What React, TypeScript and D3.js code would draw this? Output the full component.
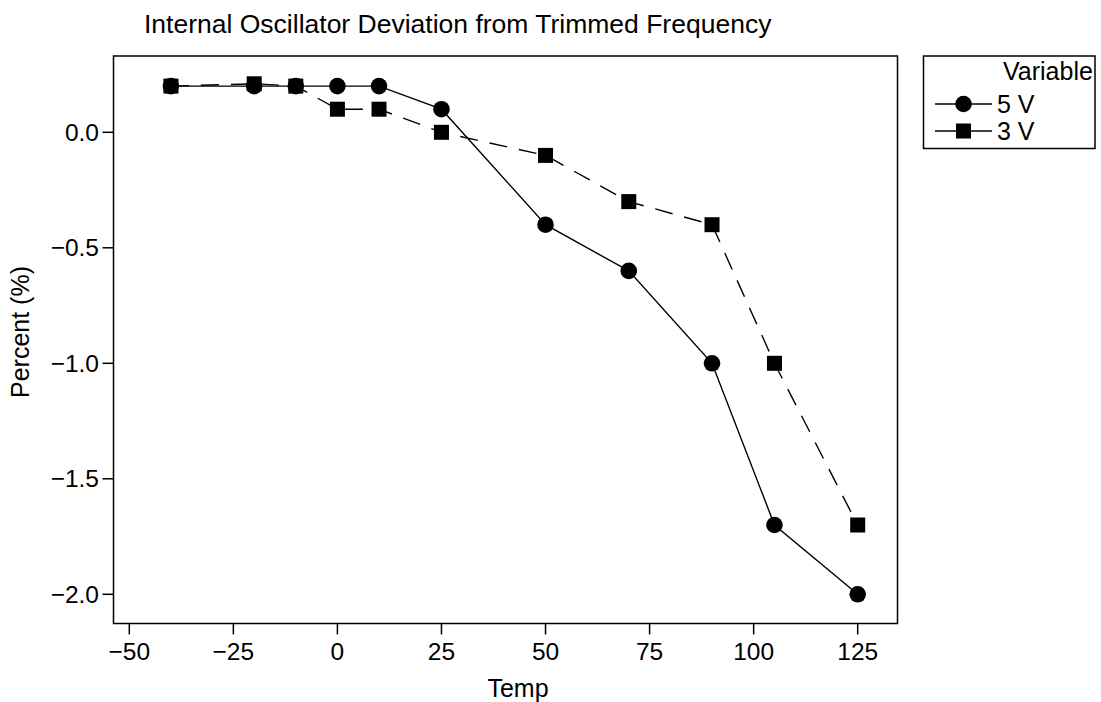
import React from "react";
import * as d3 from "d3";

const temps5V = [-40, -20, -10, 0, 10, 25, 50, 70, 90, 105, 125];
const values5V = [0.2, 0.2, 0.2, 0.2, 0.2, 0.1, -0.4, -0.6, -1.0, -1.7, -2.0];
const temps3V = [-40, -20, -10, 0, 10, 25, 50, 70, 90, 105, 125];
const values3V = [0.2, 0.21, 0.2, 0.1, 0.1, 0.0, -0.1, -0.3, -0.4, -1.0, -1.7];
const xTicks = [-50, -25, 0, 25, 50, 75, 100, 125];
const yTicks = [0, -0.5, -1.0, -1.5, -2.0];
const seriesNames = ["5 V", "3 V"];

const FONT = "'Liberation Sans', Arial, Helvetica, sans-serif";

export default function App() {
  const W = 1101, H = 702;
  const frame = { left: 113.5, right: 897.5, top: 56, bottom: 623.5 };
  const x = d3.scaleLinear().domain([-50, 125]).range([129.3, 857.7]);
  const y = d3.scaleLinear().domain([0, -2]).range([132.3, 594.3]);

  const s5 = temps5V.map((t, i) => [t, values5V[i]] as [number, number]);
  const s3 = temps3V.map((t, i) => [t, values3V[i]] as [number, number]);
  const line = d3.line<[number, number]>().x(d => x(d[0])).y(d => y(d[1]));
  const fmtY = (v: number) => (v < 0 ? "\u2212" : "") + Math.abs(v).toFixed(1);
  const fmtX = (v: number) => (v < 0 ? "\u2212" : "") + Math.abs(v);
  const sq = 15;
  const r = 8.3;

  return (
    <svg width={W} height={H} style={{ position: "absolute", left: 0, top: 0, background: "#fff" }} fontFamily={FONT}>
      <rect x={0} y={0} width={W} height={H} fill="#fff" />
      <text x={144} y={32.5} fontSize={26.5} fill="#000">Internal Oscillator Deviation from Trimmed Frequency</text>
      <rect x={frame.left} y={frame.top} width={frame.right - frame.left} height={frame.bottom - frame.top} fill="none" stroke="#000" strokeWidth={1.5} />
      {xTicks.map(t => (
        <g key={"x" + t}>
          <line x1={x(t)} x2={x(t)} y1={frame.bottom} y2={frame.bottom + 11} stroke="#000" strokeWidth={1.5} />
          <text x={x(t)} y={660} textAnchor="middle" fontSize={24.5} fill="#000">{fmtX(t)}</text>
        </g>
      ))}
      {yTicks.map(t => (
        <g key={"y" + t}>
          <line x1={frame.left - 11} x2={frame.left} y1={y(t)} y2={y(t)} stroke="#000" strokeWidth={1.5} />
          <text x={99} y={y(t)} dy="0.35em" textAnchor="end" fontSize={24.5} fill="#000">{fmtY(t)}</text>
        </g>
      ))}
      <text x={518} y={697} textAnchor="middle" fontSize={25} fill="#000">Temp</text>
      <text transform="translate(29,332) rotate(-90)" textAnchor="middle" fontSize={25} fill="#000">Percent (%)</text>

      <path d={line(s3) || ""} fill="none" stroke="#000" strokeWidth={1.4} strokeDasharray="18,12" />
      <path d={line(s5) || ""} fill="none" stroke="#000" strokeWidth={1.4} />
      {s3.map((d, i) => (
        <rect key={"s" + i} x={x(d[0]) - sq / 2} y={y(d[1]) - sq / 2} width={sq} height={sq} fill="#000" />
      ))}
      {s5.map((d, i) => (
        <circle key={"c" + i} cx={x(d[0])} cy={y(d[1])} r={r} fill="#000" />
      ))}

      <rect x={923.5} y={56} width={171.5} height={92.5} fill="none" stroke="#000" strokeWidth={1.5} />
      <text x={1003} y={80} fontSize={25} fill="#000">Variable</text>
      {seriesNames.map((n, i) => {
        const cy = 104 + i * 27;
        return (
          <g key={n}>
            <line x1={935} x2={992} y1={cy} y2={cy} stroke="#000" strokeWidth={1.4} />
            {i === 0 ? (
              <circle cx={963.5} cy={cy} r={r} fill="#000" />
            ) : (
              <rect x={963.5 - sq / 2} y={cy - sq / 2} width={sq} height={sq} fill="#000" />
            )}
            <text x={997} y={cy} dy="0.35em" fontSize={25} fill="#000">{n}</text>
          </g>
        );
      })}
    </svg>
  );
}
